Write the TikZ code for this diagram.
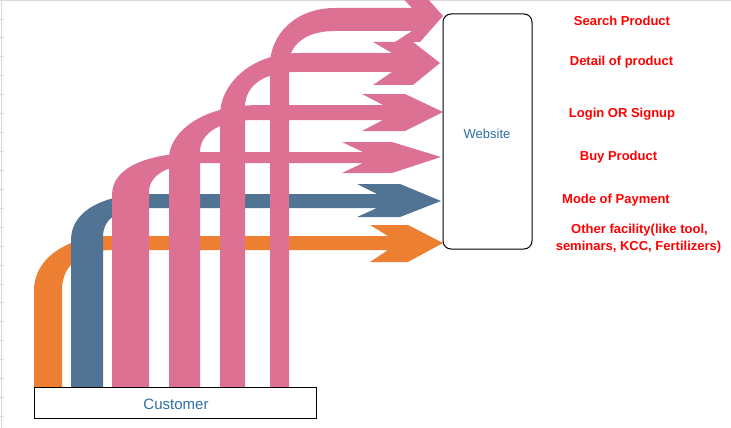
\documentclass[tikz,border=0pt]{standalone}
\usepackage{fontspec}
\setmainfont{Liberation Sans}
\definecolor{pinkA}{RGB}{221,113,148}
\definecolor{blueA}{RGB}{81,115,148}
\definecolor{orangeA}{RGB}{237,127,50}
\definecolor{txtblue}{RGB}{46,110,170}
\definecolor{gridgray}{RGB}{217,217,217}
\begin{document}
\begin{tikzpicture}[x=1pt,y=-1pt,
  lbl/.style={text=red, font=\fontsize{13}{15}\selectfont\bfseries, anchor=base, inner sep=0pt},
  boxtxt/.style={text=txtblue, anchor=base, inner sep=0pt},
  box/.style={draw=black, line width=1pt, fill=white, inner sep=0pt}]
\useasboundingbox (0,0) rectangle (731,428);
\clip (0,0) rectangle (731,428);
% faint sheet grid
\draw[gridgray, line width=1pt] (0,0.5) -- (731,0.5);
\draw[gridgray, line width=1pt] (1.5,0) -- (1.5,428);
\foreach \k in {1,...,22} \draw[gridgray, line width=0.8pt] (0,{\k*18.93}) -- (4,{\k*18.93});
% orange arrow (Other facility)
\fill[orangeA] (34,387) -- (34,290) .. controls (34,258) and (68,236) .. (110,236) -- (388,236) -- (370,225) -- (408,225) -- (443,243) -- (408,262) -- (370,262) -- (388,250) -- (110,250) .. controls (82,251) and (62,264) .. (62,290) -- (62,387) -- cycle;
% blue arrow (Mode of Payment)
\fill[blueA] (71,387) -- (71,240) .. controls (71,210) and (105,194) .. (150,194) -- (377,194) -- (357,184) -- (400,184) -- (441,201) -- (400,217) -- (357,217) -- (377,208) -- (150,208) .. controls (122,208) and (103,216) .. (103,237) -- (103,387) -- cycle;
% pink arrow (Buy Product)
\fill[pinkA] (112,387) -- (112,195) .. controls (112,168) and (145,152) .. (210,152) -- (363,152) -- (342,142) -- (392,142) -- (441,157) -- (392,173) -- (342,173) -- (363,163) -- (210,163) .. controls (172,163) and (149,172) .. (149,193) -- (149,387) -- cycle;
% pink arrow (Login OR Signup)
\fill[pinkA] (169,387) -- (169,158) .. controls (169,135) and (198,105) .. (260,105) -- (383,105) -- (362,94) -- (405,94) -- (443,112) -- (405,131) -- (362,131) -- (383,120) -- (255,120) .. controls (222,120) and (200,132) .. (200,152) -- (200,387) -- cycle;
% pink arrow (Detail of product)
\fill[pinkA] (220,387) -- (220,115) .. controls (220,85) and (250,53) .. (300,53) -- (392,53) -- (373,42) -- (413,42) -- (440,63) -- (413,85) -- (373,85) -- (392,72) -- (295,72) .. controls (265,72) and (245,85) .. (245,107) -- (245,387) -- cycle;
% pink arrow (Search Product)
\fill[pinkA] (270,387) -- (270,65) .. controls (270,35) and (295,8) .. (335,8) -- (412,8) -- (395,-10) -- (420,-10) -- (443,16) -- (420,42) -- (395,42) -- (412,31) -- (335,31) .. controls (305,31) and (289,45) .. (289,65) -- (289,387) -- cycle;
% boxes
\node[box, rounded corners=8pt, minimum width=89pt, minimum height=235pt] (web) at (487.5,131.5) {};
\node[boxtxt, font=\fontsize{13}{15}\selectfont] (webtxt) at (487,138) {Website};
\node[box, minimum width=282pt, minimum height=31pt] (cust) at (175,402.5) {};
\node[boxtxt, font=\fontsize{15}{17}\selectfont] (custtxt) at (176,409) {Customer};
% labels
\node[lbl] (l1) at (622,26) {Search Product};
\node[lbl] (l2) at (621.5,65.5) {Detail of product};
\node[lbl] (l3) at (622,117.5) {Login OR Signup};
\node[lbl] (l4) at (618.5,160) {Buy Product};
\node[lbl] (l5) at (616,203) {Mode of Payment};
\node[lbl] (l6a) at (639.5,233.5) {Other facility(like tool,};
\node[lbl] (l6b) at (638.5,250) {seminars, KCC, Fertilizers)};
\end{tikzpicture}
\end{document}
